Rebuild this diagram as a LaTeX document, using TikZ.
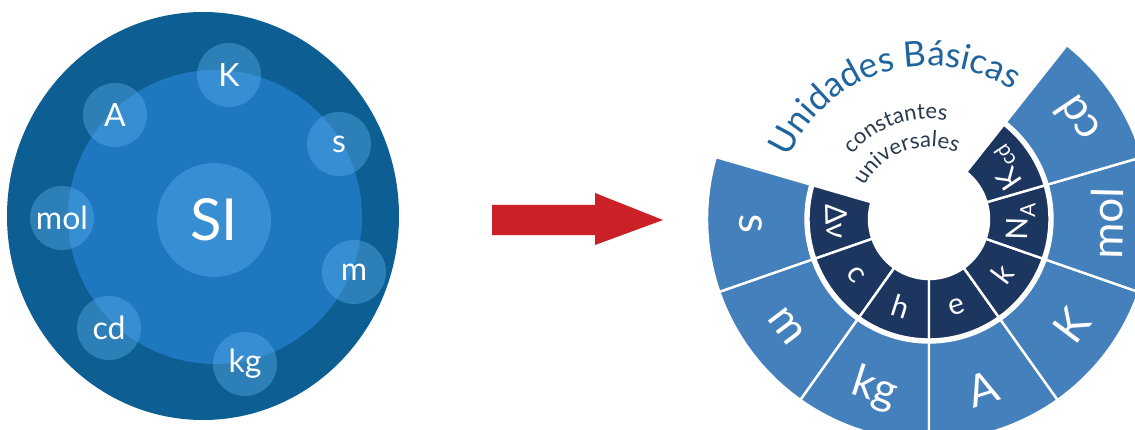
\documentclass[tikz,border=0pt]{standalone}
\usepackage{fontspec}
\setmainfont{Lato}
\usetikzlibrary{decorations.text}
\definecolor{outerdark}{RGB}{13,94,147}
\definecolor{innerblue}{RGB}{31,119,192}
\definecolor{bubblecol}{RGB}{90,175,235}
\definecolor{arrowred}{RGB}{204,32,39}
\definecolor{ringblue}{RGB}{68,128,188}
\definecolor{ringdark}{RGB}{28,54,96}
\definecolor{titleblue}{RGB}{30,100,158}
\definecolor{subgray}{RGB}{40,58,78}
\newcommand\ttlfont{\fontsize{35}{35}\selectfont}
\newcommand\subfnt{\fontsize{22}{22}\selectfont}
\begin{document}
\begin{tikzpicture}[x=1pt,y=1pt,
  bubble/.style={circle, fill=bubblecol, fill opacity=0.42, text opacity=1, text=white,
    minimum size=64pt, inner sep=0pt, font=\fontsize{32}{32}\selectfont},
  outerlab/.style={text=white, inner sep=0pt, font=\fontsize{44}{44}\selectfont},
  innerlab/.style={text=white, inner sep=0pt, font=\fontsize{30}{30}\selectfont},
  outerseg/.style={fill=ringblue, draw=white, line width=2.4pt},
  innerseg/.style={fill=ringdark, draw=white, line width=2.4pt}]
\useasboundingbox (0,0) rectangle (1135,429);
\fill[white] (0,0) rectangle (1135,429);
\begin{scope}
\clip (0,0) rectangle (1135,429);
% ---------- left diagram ----------
\fill[outerdark] (203,213) ellipse [x radius=196, y radius=204];
\fill[innerblue] (215,212) circle [radius=147];
\node[bubble, minimum size=114pt, font=\fontsize{58}{58}\selectfont] (si) at (214,209) {SI};
\node[bubble] (uK) at (229,354) {K};
\node[bubble] (uA) at (115,314) {A};
\node[bubble] (us) at (339,285) {s};
\node[bubble] (umol) at (62,211) {mol};
\node[bubble] (um) at (354,157) {m};
\node[bubble] (ucd) at (109,101) {cd};
\node[bubble] (ukg) at (245,65) {kg};
% ---------- arrow ----------
\fill[arrowred] (492,224) -- (595,224) -- (595,236) -- (663,209) -- (595,184) -- (595,194) -- (492,194) -- cycle;
% ---------- wheel ----------
\coordinate (W) at (929,210);
\foreach \lab/\ilab [count=\i from 0] in {s/{Δν}, m/c, kg/h, A/e, K/k, mol/{N\textsubscript{A}}, cd/{K\textsubscript{cd}}} {
  \pgfmathsetmacro\a{163.8+35.4*\i}
  \pgfmathsetmacro\b{\a+35.4}
  \pgfmathsetmacro\m{\a+17.7}
  \filldraw[outerseg] ([shift={(\a:123.5)}]W) arc[start angle=\a, end angle=\b, radius=123.5]
    -- ([shift={(\b:222)}]W) arc[start angle=\b, end angle=\a, radius=222] -- cycle;
  \filldraw[innerseg] ([shift={(\a:60)}]W) arc[start angle=\a, end angle=\b, radius=60]
    -- ([shift={(\b:120.5)}]W) arc[start angle=\b, end angle=\a, radius=120.5] -- cycle;
  \node[outerlab, rotate=\m+90] (o\i) at ([shift={(\m:178)}]W) {\lab};
  \node[innerlab, rotate=\m+90] (n\i) at ([shift={(\m:92)}]W) {\ilab};
}
% ---------- curved titles ----------
\path[decorate, decoration={text along path, text align=center, text color=titleblue,
   text={|\ttlfont|Unidades Básicas}}]
  ([shift={(176.7:153)}]W) arc[start angle=176.7, end angle=36.7, radius=153];
\path[decorate, decoration={text along path, text align=center, text color=subgray,
   text={|\subfnt|constantes}}]
  ([shift={(180:100)}]W) arc[start angle=180, end angle=40, radius=100];
\path[decorate, decoration={text along path, text align=center, text color=subgray,
   text={|\subfnt|universales}}]
  ([shift={(180:72)}]W) arc[start angle=180, end angle=40, radius=72];
\end{scope}
\end{tikzpicture}
\end{document}
